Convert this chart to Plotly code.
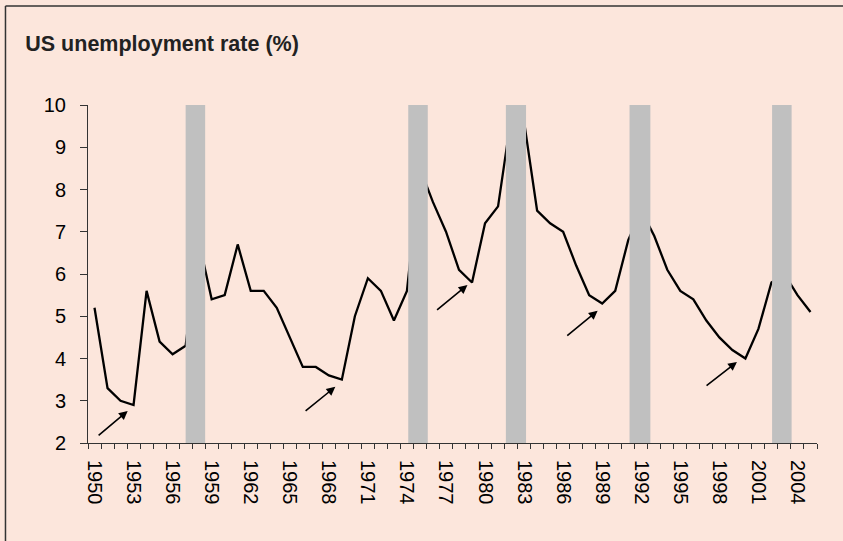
import plotly.graph_objects as go

# annual US unemployment rate, %
years = list(range(1950, 2006))
unemployment = [5.2, 3.3, 3.0, 2.9, 5.6, 4.4, 4.1, 4.3, 6.8, 5.4,
                5.5, 6.7, 5.6, 5.6, 5.2, 4.5, 3.8, 3.8, 3.6, 3.5,
                5.0, 5.9, 5.6, 4.9, 5.6, 8.5, 7.7, 7.0, 6.1, 5.8,
                7.2, 7.6, 9.7, 9.6, 7.5, 7.2, 7.0, 6.2, 5.5, 5.3,
                5.6, 6.8, 7.5, 6.9, 6.1, 5.6, 5.4, 4.9, 4.5, 4.2,
                4.0, 4.7, 5.8, 6.0, 5.5, 5.1]

# shaded periods (start, end)
shade_start = [1957.0, 1974.1, 1981.6, 1991.1, 2002.05]
shade_end = [1958.5, 1975.6, 1983.15, 1992.7, 2003.55]

# arrows: tail -> head
arrow_tail_x = [1950.2, 1966.1, 1976.2, 1986.2, 1996.9]
arrow_tail_y = [2.15, 2.73, 5.12, 4.51, 3.33]
arrow_head_x = [1952.55, 1968.5, 1978.65, 1988.65, 1999.35]
arrow_head_y = [2.76, 3.33, 5.74, 5.13, 3.92]

tick_years = list(range(1950, 2005, 3))

bg = "#FCE6DC"
font = "Liberation Sans, Arial, sans-serif"

fig = go.Figure()
fig.add_trace(go.Scatter(x=years, y=unemployment, mode="lines",
                         line=dict(color="black", width=2.3),
                         showlegend=False, hoverinfo="x+y"))

for s, e in zip(shade_start, shade_end):
    fig.add_shape(type="rect", xref="x", yref="y", x0=s, x1=e, y0=1.92, y1=10.03,
                  fillcolor="#C0C0C0", line=dict(width=0), layer="above")

for tx, ty, hx, hy in zip(arrow_tail_x, arrow_tail_y, arrow_head_x, arrow_head_y):
    fig.add_annotation(x=hx, y=hy, ax=tx, ay=ty, xref="x", yref="y",
                       axref="x", ayref="y", text="", showarrow=True,
                       arrowhead=2, arrowsize=1.1, arrowwidth=1.6,
                       arrowcolor="black", standoff=0)

# outer frame, only the left and top edges are in view
frame = dict(color="#333333", width=1.5)
fig.add_shape(type="line", xref="paper", yref="paper", x0=-0.1132, x1=-0.1132,
              y0=-0.3, y1=1.293, line=frame, layer="above")
fig.add_shape(type="line", xref="paper", yref="paper", x0=-0.1132, x1=1.04,
              y0=1.293, y1=1.293, line=frame, layer="above")

fig.update_layout(
    width=843, height=541,
    margin=dict(l=88, r=26, t=105, b=98),
    paper_bgcolor=bg, plot_bgcolor=bg,
    font=dict(family=font, size=20, color="black"),
    title=dict(text="<b>US unemployment rate (%)</b>", xref="container", yref="container",
               x=0.03, xanchor="left", y=1 - 43 / 541, yanchor="middle",
               font=dict(family=font, size=21.5, color="#222222")),
    showlegend=False,
)

fig.update_xaxes(type="linear", range=[1949.5, 2005.5], showgrid=False, zeroline=False,
                 showline=True, linecolor="#333333", linewidth=1,
                 tickmode="array", tickvals=tick_years, ticktext=[str(y) for y in tick_years],
                 tickangle=90, ticks="", ticklabelstandoff=12,
                 minor=dict(ticks="outside", ticklen=5, tickcolor="#333333",
                            tick0=1949.5, dtick=1, showgrid=False))
fig.update_yaxes(range=[2, 10], dtick=1, showgrid=False, zeroline=False,
                 showline=True, linecolor="#333333", linewidth=1,
                 ticks="outside", ticklen=7, tickcolor="#333333",
                 ticklabelstandoff=10)

# drop the page's default body margin so the figure fills the window
fig.write_html("out.html", config={"displayModeBar": False},
               post_script="document.body.style.margin='0';document.body.style.overflow='hidden';")
